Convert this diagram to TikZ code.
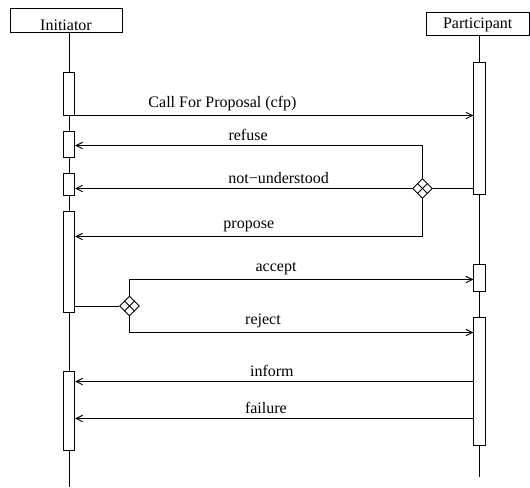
\documentclass[tikz,border=0pt]{standalone}
\usepackage{fontspec}
\setmainfont{Liberation Serif}
\usetikzlibrary{shapes.geometric, arrows.meta, calc}
\newcommand{\pxu}{0.625pt}
\tikzset{
	actor/.style={draw, rectangle, inner sep=0pt, line width=0.6pt},
	act/.style={draw, rectangle, inner sep=0pt, minimum width=7pt, fill=white, line width=0.6pt},
	choice/.style={draw, diamond, inner sep=0pt, minimum size=12.5pt, fill=white, line width=0.6pt},
	life/.style={line width=0.6pt},
	msg/.style={line width=0.6pt, -{Straight Barb[length=4pt, width=4pt]}},
	lbl/.style={above=2.5pt, inner sep=0pt},
}

\begin{document}
\begin{tikzpicture}[x=\pxu, y=-\pxu]
	\useasboundingbox (0,0) rectangle (530,487);

	\node[actor, minimum width=70pt, text height=13.75pt, text depth=1.25pt] (init) at (66,20) {Initiator};
	\node[actor, minimum width=64.7pt, text height=10.6pt, text depth=3.75pt] (part) at (477.75,23.5) {Participant};

	\coordinate (init-end) at (69,487);
	\coordinate (part-end) at (479.5,477);
	\draw[life] (init-end |- init.south) -- (init-end);
	\draw[life] (part-end |- part.south) -- (part-end);

	% activation boxes: name/x/top/bottom
	\foreach \name/\x/\top/\bot in {i1/69/72/115, i2/69/131/157, i3/69/173/195, i4/69/211/312, i5/69/371/450,
			p1/479.5/62/194, p2/479.5/264/291, p3/479.5/317/445}
		\node[act, minimum height={(\bot-\top)*\pxu}] (\name) at (\x,{(\top+\bot)/2}) {};

	\node[choice] (d1) at (422.5,188.5) {};
	\node[choice] (d2) at (129.5,306) {};
	\foreach \d in {d1, d2} {
		\draw[life] ($(\d.north)!0.5!(\d.west)$) -- ($(\d.south)!0.5!(\d.east)$);
		\draw[life] ($(\d.north)!0.5!(\d.east)$) -- ($(\d.south)!0.5!(\d.west)$);
	}

	\coordinate (m-inform) at ($(p3.north west)+(0,65)$);
	\coordinate (m-failure) at ($(p3.north west)+(0,102)$);

	\draw[msg] (i1.south east) -- (i1.south east -| p1.west) node[lbl, pos=0.37] {Call For Proposal (cfp)};
	\draw[msg] (d1.north) |- ($(i2.north east)+(0,15)$) node[lbl, pos=0.751] {refuse};
	\draw[life] (d1 -| p1.west) -- (d1.east);
	\draw[msg] (d1.west) -- (d1.west -| i3.east) node[lbl, pos=0.396] {not−understood};
	\draw[msg] (d1.south) |- ($(i4.north east)+(0,26)$) node[lbl, pos=0.75] {propose};
	\draw[life] (d2 -| i4.east) -- (d2.west);
	\draw[msg] (d2.north) |- ($(p2.north west)+(0,16)$) node[lbl, pos=0.713] {accept};
	\draw[msg] (d2.south) |- ($(p3.north west)+(0,16)$) node[lbl, pos=0.694] {reject};
	\draw[msg] (m-inform) -- (m-inform -| i5.east) node[lbl, pos=0.506] {inform};
	\draw[msg] (m-failure) -- (m-failure -| i5.east) node[lbl, pos=0.521] {failure};
\end{tikzpicture}
\end{document}
